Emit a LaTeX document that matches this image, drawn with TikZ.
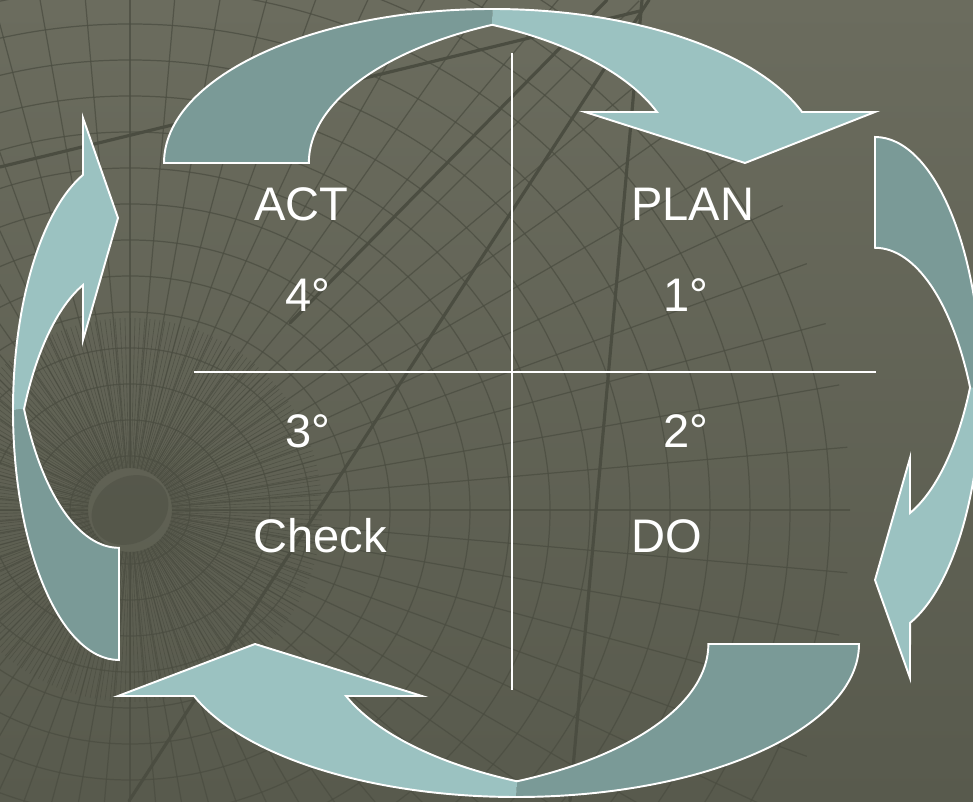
\documentclass[tikz,border=0pt]{standalone}
\usepackage{fontspec}
\setmainfont{Liberation Sans}
\definecolor{bgtop}{HTML}{6B6C5E}
\definecolor{bgbot}{HTML}{585A4D}
\definecolor{gridln}{HTML}{4B4D41}
\definecolor{armlight}{HTML}{9BC2C1}
\definecolor{armdark}{HTML}{7A9A97}

\begin{document}
\begin{tikzpicture}[x=0.02cm, y=0.02cm,
    word/.style={text=white, anchor=base west, inner sep=0pt,
      font=\fontsize{26.8}{32}\selectfont},
    bgline/.style={draw=gridln, line width=0.7pt, opacity=0.75},
    beam/.style={draw=gridln, line width=1.8pt, line cap=round},
    litband/.style={fill=armlight},
    darkband/.style={fill=armdark},
    rim/.style={draw=white, line width=1.1pt, line join=miter},
    divider/.style={draw=white, line width=1.1pt}]
  \useasboundingbox (0,0) rectangle (973,801);
  \begin{scope}
    \clip (0,0) rectangle (973,801);
    % background with the globe grid
    \shade[top color=bgtop, bottom color=bgbot] (0,0) rectangle (973,801);
    \coordinate (globe) at (130,291);
    \fill[gridln, opacity=0.45, rotate around={30:(globe)}] (globe) ellipse [x radius=40, y radius=33];
    \begin{scope}
      \clip (globe) circle [radius=720];
      \foreach \r [evaluate=\r as \ry using 0.9*\r] in {60,100,...,700}
        \draw[bgline] (globe) ellipse [x radius=\r, y radius=\ry];
      \foreach \a in {0,5,...,355}
        \draw[bgline] (globe) ++(\a:42) -- ++(\a:700);
      \foreach \a in {0,1.5,...,358.5}
        \draw[bgline, line width=0.35pt] (globe) ++(\a:42) -- ++(\a:150);
    \end{scope}
    \coordinate (vanish) at (640,790);
    \draw[beam] (vanish) -- (0,634);
    \draw[beam] (607,801) -- (290,478);
    \draw[beam] (649,801) -- (129,0);
    \draw[beam] (642,801) -- (570,0);

    % top arrow: ACT -> PLAN
    \begin{scope}[x radius=328.3, y radius=154]
      \fill[darkband] (164,638) arc[start angle=180, end angle=90]
        -- (492.3,776.2) arc[start angle=116.2, end angle=180] -- cycle;
      \fill[litband] (492.3,792) arc[start angle=90, end angle=19.34]
        -- (875,689) -- (745,638) -- (585,689) -- (657,689)
        arc[start angle=19.34, end angle=63.8] -- cycle;
      \draw[rim] (164,638) arc[start angle=180, end angle=19.34]
        -- (875,689) -- (745,638) -- (585,689) -- (657,689)
        arc[start angle=19.34, end angle=63.8]
        arc[start angle=116.2, end angle=180] -- cycle;
    \end{scope}

    % right arrow: PLAN -> DO
    \begin{scope}[x radius=106, y radius=250]
      \fill[darkband] (875,664) arc[start angle=90, end angle=0]
        -- (970.1,413.5) arc[start angle=26.2, end angle=90] -- cycle;
      \fill[litband] (981,414) arc[start angle=0, end angle=-70.7]
        -- (910,123) -- (875,221) -- (910,343) -- (910,288)
        arc[start angle=-70.7, end angle=-26.2] -- cycle;
      \draw[rim] (875,664) arc[start angle=90, end angle=-70.7]
        -- (910,123) -- (875,221) -- (910,343) -- (910,288)
        arc[start angle=-70.7, end angle=-26.2]
        arc[start angle=26.2, end angle=90] -- cycle;
    \end{scope}

    % bottom arrow: DO -> Check
    \begin{scope}[x radius=342.7, y radius=153]
      \fill[darkband] (859,157) arc[start angle=360, end angle=270]
        -- (516.8,19.8) arc[start angle=296.2, end angle=360] -- cycle;
      \fill[litband] (516.3,4) arc[start angle=270, end angle=199.87]
        -- (118,105) -- (255,157) -- (422,105) -- (346,105)
        arc[start angle=199.87, end angle=243.8] -- cycle;
      \draw[rim] (859,157) arc[start angle=360, end angle=199.87]
        -- (118,105) -- (255,157) -- (422,105) -- (346,105)
        arc[start angle=199.87, end angle=243.8]
        arc[start angle=296.2, end angle=360] -- cycle;
    \end{scope}

    % left arrow: Check -> ACT
    \begin{scope}[x radius=106, y radius=250]
      \fill[darkband] (119,141) arc[start angle=270, end angle=180]
        -- (24.1,392) arc[start angle=206.4, end angle=270] -- cycle;
      \fill[litband] (13,391) arc[start angle=180, end angle=109.85]
        -- (83,683) -- (118,583) -- (83,461) -- (83,516)
        arc[start angle=109.85, end angle=153.6] -- cycle;
      \draw[rim] (119,141) arc[start angle=270, end angle=109.85]
        -- (83,683) -- (118,583) -- (83,461) -- (83,516)
        arc[start angle=109.85, end angle=153.6]
        arc[start angle=206.4, end angle=270] -- cycle;
    \end{scope}
  \end{scope}

  % quadrants
  \draw[divider] (512,748) -- (512,111);
  \draw[divider] (194,429) -- (876,429);

  \node[word] (act) at (254,580) {ACT};
  \node[word] (plan) at (631,580) {PLAN};
  \node[word] (fourth) at (285,489) {4°};
  \node[word] (first) at (663,489) {1°};
  \node[word] (third) at (285,353) {3°};
  \node[word] (second) at (663,353) {2°};
  \node[word] (check) at (253,248) {Check};
  \node[word] (do) at (631,248) {DO};
\end{tikzpicture}
\end{document}
